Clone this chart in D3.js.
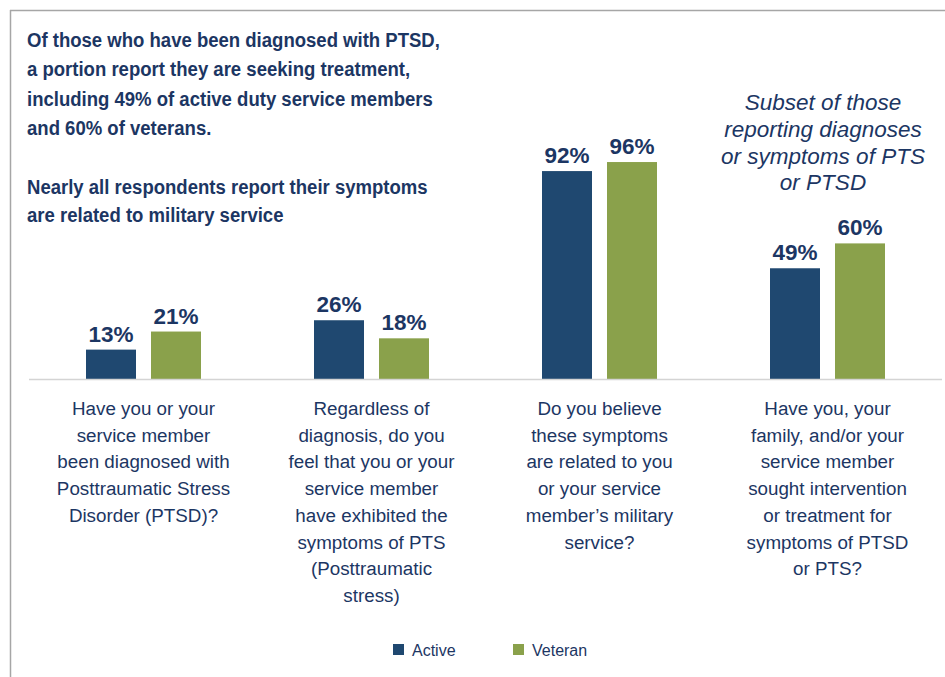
<!DOCTYPE html>
<html><head><meta charset="utf-8">
<script src="https://cdn.jsdelivr.net/npm/d3@7"></script>
<style>
html,body{margin:0;padding:0;background:#fff;}
svg{display:block;}
</style></head>
<body>
<svg id="chart" width="945" height="677"></svg>
<script>
// ---- data ----
const categories = ["q1","q2","q3","q4"];
const categoryLabels = [
  ["Have you or your","service member","been diagnosed with","Posttraumatic Stress","Disorder (PTSD)?"],
  ["Regardless of","diagnosis, do you","feel that you or your","service member","have exhibited the","symptoms of PTS","(Posttraumatic","stress)"],
  ["Do you believe","these symptoms","are related to you","or your service","member\u2019s military","service?"],
  ["Have you, your","family, and/or your","service member","sought intervention","or treatment for","symptoms of PTSD","or PTS?"]
];
const seriesNames = ["Active","Veteran"];
const activeValues = [13, 26, 92, 49];
const veteranValues = [21, 18, 96, 60];
const titleLines1 = ["Of those who have been diagnosed with PTSD,","a portion report they are seeking treatment,","including 49% of active duty service members","and 60% of veterans."];
const titleLines2 = ["Nearly all respondents report their symptoms","are related to military service"];
const subsetNote = ["Subset of those","reporting diagnoses","or symptoms of PTS","or PTSD"];

const colors = {Active:"#1f4870", Veteran:"#8aa14b"};
const navy = "#1c3663";

const svg = d3.select("#chart");

// frame
svg.append("line").attr("x1",10).attr("x2",945).attr("y1",10.5).attr("y2",10.5).attr("stroke","#a6a6a6").attr("stroke-width",1.5);
svg.append("line").attr("x1",10.5).attr("x2",10.5).attr("y1",10).attr("y2",677).attr("stroke","#a6a6a6").attr("stroke-width",1.5);

const baseY = 379;
const y = d3.scaleLinear().domain([0,100]).range([baseY, baseY-226]);
const x0 = d3.scaleBand().domain(categories).range([29.5, 941.5]).paddingInner(0.4956).paddingOuter(0.2478);
const x1 = d3.scaleBand().domain(seriesNames).range([0, x0.bandwidth()]).paddingInner(0.2308);

const rows = categories.map((c,i)=>({cat:c, vals:[{s:"Active",v:activeValues[i]},{s:"Veteran",v:veteranValues[i]}]}));

const g = svg.selectAll("g.grp").data(rows).join("g").attr("class","grp")
  .attr("transform", d=>`translate(${x0(d.cat)},0)`);

g.selectAll("rect").data(d=>d.vals).join("rect")
  .attr("x", d=>x1(d.s)).attr("width", x1.bandwidth())
  .attr("y", d=>y(d.v)).attr("height", d=>baseY - y(d.v))
  .attr("fill", d=>colors[d.s]);

g.selectAll("text.val").data(d=>d.vals).join("text").attr("class","val")
  .attr("x", d=>x1(d.s)+x1.bandwidth()/2).attr("y", d=>y(d.v)-8)
  .attr("text-anchor","middle")
  .attr("font-family","'Liberation Sans', Arial, sans-serif").attr("font-weight","bold")
  .attr("font-size",22.5).attr("fill",navy)
  .text(d=>d.v+"%");

// baseline
svg.append("line").attr("x1",29).attr("x2",942).attr("y1",baseY+0.5).attr("y2",baseY+0.5)
  .attr("stroke","#d4d4d4").attr("stroke-width",1.5);

// category labels
categories.forEach((c,i)=>{
  const t = svg.append("text").attr("text-anchor","middle")
    .attr("font-family","'Liberation Sans', Arial, sans-serif").attr("font-size",18.8).attr("fill",navy);
  categoryLabels[i].forEach((ln,j)=>{
    t.append("tspan").attr("x", x0(c)+x0.bandwidth()/2).attr("y", 415 + j*26.7).text(ln);
  });
});

// titles (condensed)
const tt = svg.append("text").attr("transform","translate(27,0) scale(0.883,1)")
  .attr("font-family","'Liberation Sans', Arial, sans-serif")
  .attr("font-weight","bold").attr("font-size",21).attr("fill",navy);
titleLines1.forEach((ln,j)=> tt.append("tspan").attr("x",0).attr("y",47+j*29.3).text(ln));
titleLines2.forEach((ln,j)=> tt.append("tspan").attr("x",0).attr("y",194+j*28).text(ln));

// subset note
const sn = svg.append("text").attr("text-anchor","middle")
  .attr("font-family","'Liberation Sans', Arial, sans-serif").attr("font-style","italic")
  .attr("font-size",22.5).attr("fill",navy);
subsetNote.forEach((ln,j)=> sn.append("tspan").attr("x",823).attr("y",110+j*26.8).text(ln));

// legend
const legendX = [393, 513];
const lg = svg.selectAll("g.leg").data(seriesNames).join("g").attr("class","leg")
  .attr("transform",(d,i)=>`translate(${legendX[i]},644)`);
lg.append("rect").attr("width",11).attr("height",11).attr("fill",d=>colors[d]);
lg.append("text").attr("x",19).attr("y",11.5)
  .attr("font-family","'Liberation Sans', Arial, sans-serif").attr("font-size",16)
  .attr("fill",navy).text(d=>d);
</script>
</body></html>
